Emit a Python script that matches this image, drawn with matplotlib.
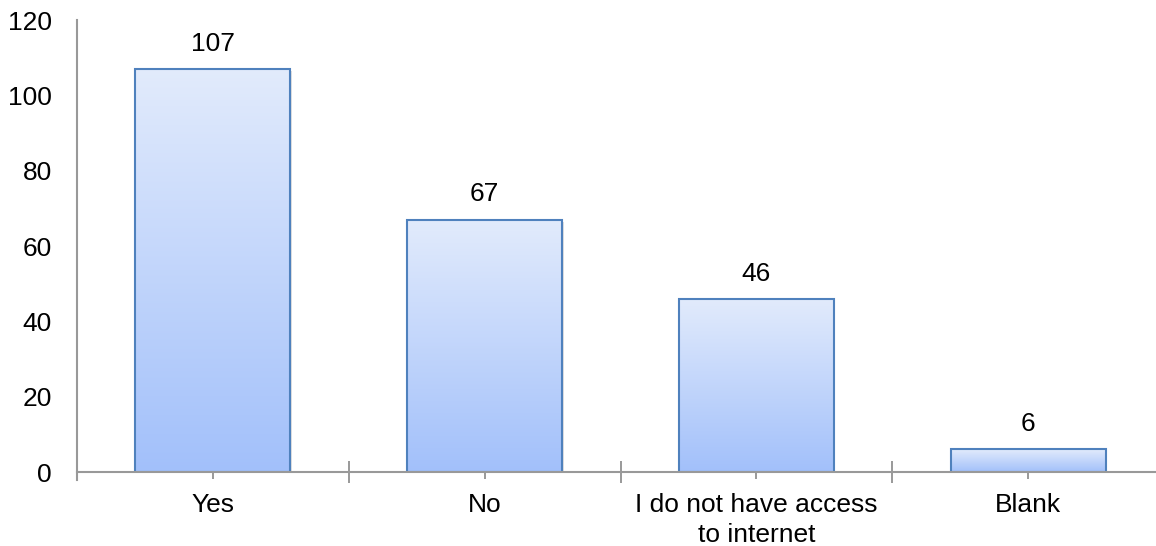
import numpy as np
import matplotlib
matplotlib.use("Agg")
import matplotlib.pyplot as plt
from matplotlib.colors import LinearSegmentedColormap

categories = ["Yes", "No", "I do not have access\nto internet", "Blank"]
counts = [107, 67, 46, 6]
yticks = [0, 20, 40, 60, 80, 100, 120]

plt.rcParams["font.family"] = ["Liberation Sans", "DejaVu Sans"]
FS = 19

W, H = 1156, 546
fig = plt.figure(figsize=(W / 100, H / 100), dpi=100)
ax = fig.add_axes([77 / W, 74 / H, (1164 - 77) / W, (472 - 20) / H])

grad = LinearSegmentedColormap.from_list("barfill", ["#a2c0fa", "#e2ebfc"])
x = np.arange(len(categories))
bars = ax.bar(x, counts, width=0.57, facecolor="none", edgecolor="#4f81bd",
              linewidth=1.5, zorder=3)

for b, v in zip(bars, counts):
    x0, w = b.get_x(), b.get_width()
    # soft drop shadow
    ax.bar(x0 + w / 2 + 0.006, v, width=w, bottom=-0.5, color="#000000",
           alpha=0.12, linewidth=0, zorder=1)
    img = ax.imshow(np.linspace(0, 1, 256).reshape(-1, 1), cmap=grad,
                    extent=[x0, x0 + w, 0, v], origin="lower",
                    aspect="auto", zorder=2)
    img.set_clip_path(b)
    ax.text(b.get_x() + w / 2, v + 3.5, str(v), ha="center", va="bottom",
            fontsize=FS, color="black")

ax.set_xlim(-0.5, len(categories) - 0.5)
ax.set_ylim(0, 120)
ax.set_yticks(yticks)
ax.tick_params(axis="y", length=0, pad=18, labelsize=FS)

ax.set_xticks(x)
ax.set_xticklabels(categories, fontsize=FS, linespacing=1.3)
ax.set_xticks(x[:-1] + 0.5, minor=True)
ax.tick_params(axis="x", which="major", direction="inout", length=10,
               color="#888888", width=1.2, pad=10)
ax.tick_params(axis="x", which="minor", direction="inout", length=16,
               color="#888888", width=1.2)

for s in ["top", "right"]:
    ax.spines[s].set_visible(False)
for s in ["left", "bottom"]:
    ax.spines[s].set_color("#999999")
    ax.spines[s].set_linewidth(1.5)
ax.spines["left"].set_bounds(-2, 120)
ax.spines["left"].set_zorder(4)
ax.spines["bottom"].set_zorder(4)

fig.savefig("out.png", dpi=100)
